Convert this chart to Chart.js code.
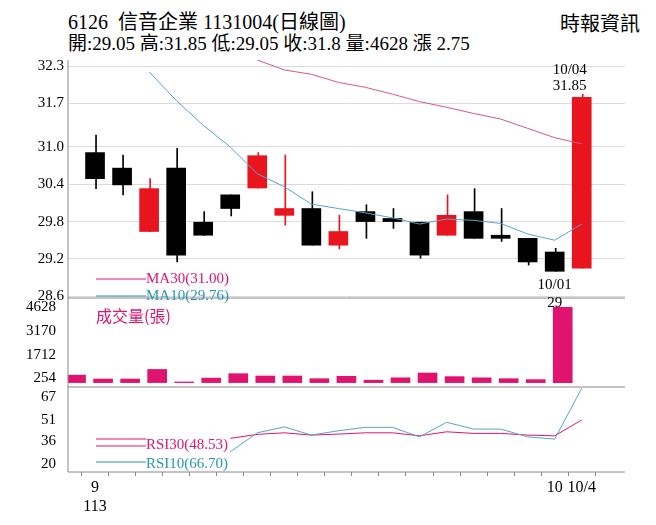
<!DOCTYPE html>
<html>
<head>
<meta charset="utf-8">
<script src="https://cdn.jsdelivr.net/npm/chart.js@4"></script>
<style>
  body { margin: 0; background: #fff; font-family: 'Liberation Serif', 'Noto Sans CJK TC', serif; }
  #wrap { position: relative; width: 656px; height: 525px; }
  #t1 { position: absolute; left: 68px; top: 6px; font-size: 20px; }
  #t2 { position: absolute; left: 68px; top: 28px; font-size: 19px; }
  #src { position: absolute; right: 16px; top: 8px; font-size: 20px; }
  canvas { position: absolute; left: 0; top: 0; }
</style>
</head>
<body>
<div id="wrap">
  <div id="t1">6126&nbsp; 信音企業 1131004(日線圖)</div>
  <div id="t2">開:29.05 高:31.85 低:29.05 收:31.8 量:4628 漲 2.75</div>
  <div id="src">時報資訊</div>
  <canvas id="c" width="656" height="525"></canvas>
</div>
<script>
(function () {
  'use strict';

  // --- Data ---
  var opens  = [30.91, 30.66, 29.64, 30.66, 29.79, 30.23, 30.34, 29.90, 30.01, 29.42, 29.96, 29.85, 29.79, 29.58, 29.96, 29.58, 29.53, 29.31, 29.05];
  var closes = [30.49, 30.39, 30.33, 29.26, 29.58, 30.01, 30.86, 30.01, 29.42, 29.64, 29.80, 29.80, 29.26, 29.90, 29.53, 29.53, 29.15, 29.00, 31.80];
  var highs  = [31.19, 30.87, 30.49, 30.98, 29.96, 30.23, 30.91, 30.87, 30.28, 29.90, 30.07, 30.01, 29.79, 30.23, 30.33, 30.01, 29.53, 29.37, 31.85];
  var lows   = [30.33, 30.23, 29.64, 29.15, 29.58, 29.89, 30.34, 29.74, 29.42, 29.36, 29.53, 29.69, 29.21, 29.58, 29.53, 29.48, 29.10, 29.00, 29.05];
  var ma10   = [null, null, 32.21, 31.75, 31.35, 31.00, 30.57, 30.36, 30.08, 30.01, 29.94, 29.86, 29.76, 29.84, 29.82, 29.77, 29.60, 29.50, 29.76];
  var ma30   = [null, null, null, null, null, null, 32.40, 32.24, 32.17, 32.04, 31.96, 31.85, 31.73, 31.64, 31.54, 31.45, 31.30, 31.15, 31.05];
  var volume = [460, 220, 220, 810, 40, 276, 550, 405, 405, 240, 386, 147, 294, 590, 368, 294, 240, 184, 4628];
  var rsi10  = [null, null, null, null, null, 28.6, 41.9, 46.0, 40.3, 43.3, 45.7, 45.7, 39.1, 49.2, 44.5, 44.5, 39.1, 37.5, 73.0];
  var rsi30  = [null, null, null, null, null, 38.0, 40.8, 41.9, 40.3, 41.0, 41.9, 41.9, 39.8, 42.6, 41.5, 41.5, 40.3, 39.8, 50.8];
  var priceTicks = [28.6, 29.2, 29.8, 30.4, 31.0, 31.7, 32.3];
  var volTicks = [254, 1712, 3170, 4628];
  var rsiTicks = [20, 36, 51, 67];
  var xLabels = { 0: ['9', '113'], 17: '10', 18: '10/4' };

  var RED = '#e8141e', BLACK = '#000', PINK = '#e0146e', BLUE = '#5aa3c8', MAPINK = '#d9577e';
  var FONT = { family: "'Liberation Serif', serif", size: 15 };

  function pts(arr) {
    var out = [];
    for (var i = 0; i < arr.length; i++) out.push({ x: i, y: arr[i] });
    return out;
  }
  var cols = closes.map(function (c, i) { return c >= opens[i] ? RED : BLACK; });
  var bodies = opens.map(function (o, i) { return { x: i, y: [o, closes[i]] }; });
  var wicks = lows.map(function (l, i) { return { x: i, y: [l, highs[i]] }; });

  function fixTicks(vals) {
    return function (scale) { scale.ticks = vals.map(function (v) { return { value: v }; }); };
  }
  function fitW(scale) { scale.width = 60; }
  function plain(v) { return String(v); }

  var overlay = {
    id: 'overlay',
    afterDraw: function (ch) {
      var c = ch.ctx, a = ch.chartArea, x = ch.scales.x;
      var py = ch.scales.price, vy = ch.scales.vol;
      c.save();
      c.strokeStyle = '#888'; c.lineWidth = 1;
      c.beginPath();
      c.moveTo(a.left, a.top); c.lineTo(a.left, a.bottom); c.lineTo(a.right, a.bottom);
      c.moveTo(a.left, py.bottom); c.lineTo(a.right, py.bottom);
      c.moveTo(a.left, vy.bottom); c.lineTo(a.right, vy.bottom);
      c.stroke();
      c.font = "15px 'Liberation Serif', serif";
      c.textAlign = 'center';
      c.fillStyle = '#000';
      var x19 = x.getPixelForValue(18), x18 = x.getPixelForValue(17);
      c.fillText('10/04', x19 - 12, py.getPixelForValue(highs[18]) - 20);
      c.fillText('31.85', x19 - 12, py.getPixelForValue(highs[18]) - 4);
      c.fillText('10/01', x18, py.getPixelForValue(lows[17]) + 18);
      c.fillText('29', x18, py.getPixelForValue(lows[17]) + 36);
      function leg(label, color, y, lineY) {
        c.strokeStyle = color; c.lineWidth = 1;
        c.beginPath(); c.moveTo(a.left + 28, lineY); c.lineTo(a.left + 78, lineY); c.stroke();
        c.fillStyle = color; c.textAlign = 'left';
        c.fillText(label, a.left + 78, y);
      }
      leg('MA30(31.00)', PINK, 283, 279);
      leg('MA10(29.76)', '#2a95b5', 300, 296);
      leg('RSI30(48.53)', PINK, 449, 439);
      leg('RSI10(66.70)', '#2a95b5', 468, 462);
      c.strokeStyle = PINK; c.beginPath(); c.moveTo(a.left + 28, 446); c.lineTo(a.left + 78, 446); c.stroke();
      c.fillStyle = PINK; c.font = "16px 'Noto Sans CJK TC', sans-serif";
      c.fillText('成交量(張)', a.left + 28, 322);
      c.restore();
    }
  };

  new Chart(document.getElementById('c'), {
    data: {
      datasets: [
        { type: 'bar', data: wicks, yAxisID: 'price', backgroundColor: cols, barThickness: 1, order: 3 },
        { type: 'bar', data: bodies, yAxisID: 'price', backgroundColor: cols, barThickness: 19, order: 2 },
        { type: 'line', data: pts(ma10), yAxisID: 'price', borderColor: BLUE, borderWidth: 1, pointRadius: 0, order: 1 },
        { type: 'line', data: pts(ma30), yAxisID: 'price', borderColor: MAPINK, borderWidth: 1, pointRadius: 0, order: 1 },
        { type: 'bar', data: pts(volume), yAxisID: 'vol', backgroundColor: PINK, barThickness: 19 },
        { type: 'line', data: pts(rsi10), yAxisID: 'rsi', borderColor: BLUE, borderWidth: 1, pointRadius: 0 },
        { type: 'line', data: pts(rsi30), yAxisID: 'rsi', borderColor: PINK, borderWidth: 1, pointRadius: 0 }
      ]
    },
    options: {
      responsive: false,
      animation: false,
      layout: { padding: { top: 60, left: 8, right: 31, bottom: 0 } },
      plugins: { legend: { display: false }, tooltip: { enabled: false } },
      scales: {
        x: {
          type: 'linear', min: -1, max: 19.6, offset: false,
          afterBuildTicks: fixTicks([0, 1, 2, 3, 4, 5, 6, 7, 8, 9, 10, 11, 12, 13, 14, 15, 16, 17, 18]),
          afterFit: function (s) { s.height = 53; },
          ticks: { autoSkip: false, maxRotation: 0, color: '#000', font: { family: FONT.family, size: 16 }, padding: 2,
            callback: function (v) { return xLabels[v] || ''; } },
          grid: { drawOnChartArea: false, tickLength: 4, color: '#888' },
          border: { display: false }
        },
        rsi: {
          type: 'linear', position: 'left', stack: 'p', stackWeight: 85, min: 14.6, max: 73.8,
          afterBuildTicks: fixTicks(rsiTicks), afterFit: fitW,
          ticks: { autoSkip: false, color: '#000', font: FONT, padding: 4, callback: plain },
          grid: { display: false },
          border: { display: false }
        },
        vol: {
          type: 'linear', position: 'left', stack: 'p', stackWeight: 89, min: -270, max: 5200,
          afterBuildTicks: fixTicks(volTicks), afterFit: fitW,
          ticks: { autoSkip: false, color: '#000', font: FONT, padding: 4, callback: plain },
          grid: { display: false },
          border: { display: false }
        },
        price: {
          type: 'linear', position: 'left', stack: 'p', stackWeight: 238, min: 28.57, max: 32.4,
          afterBuildTicks: fixTicks(priceTicks), afterFit: fitW,
          ticks: { autoSkip: false, color: '#000', font: FONT, padding: 4, callback: function (v) { return v.toFixed(1); } },
          grid: { color: '#dcdcdc', drawTicks: false },
          border: { display: false }
        }
      }
    },
    plugins: [overlay]
  });
})();
</script>
</body>
</html>
